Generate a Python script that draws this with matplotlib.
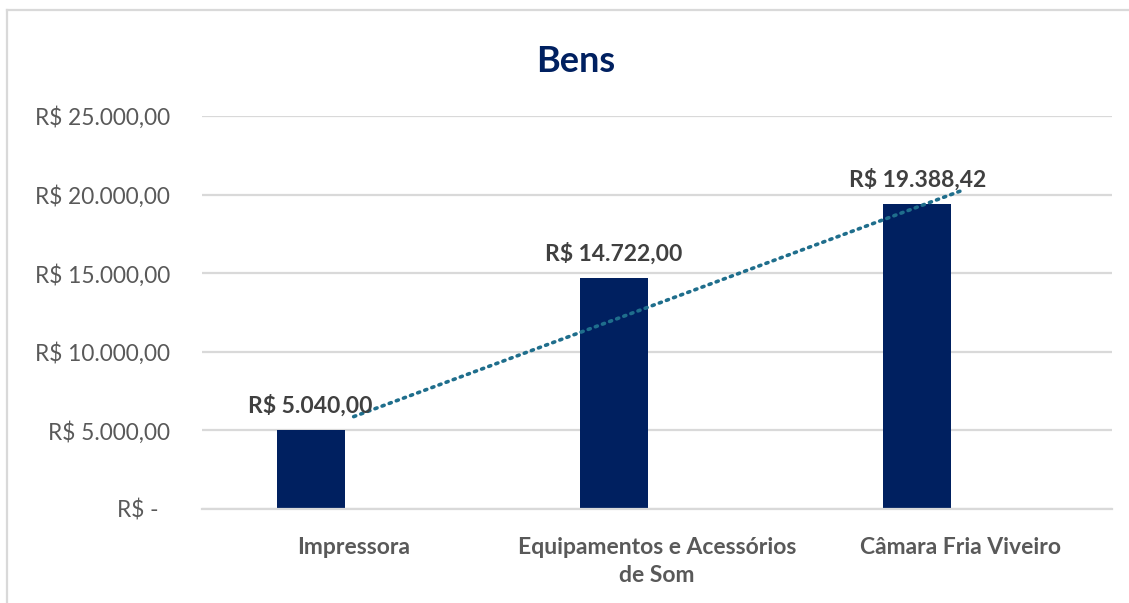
import matplotlib
matplotlib.use("Agg")
import matplotlib.pyplot as plt
import numpy as np
from matplotlib.ticker import FixedLocator

categories = ["Impressora", "Equipamentos e Acessórios\nde Som", "Câmara Fria Viveiro"]
values = [5040.00, 14722.00, 19388.42]
value_labels = ["R$ 5.040,00", "R$ 14.722,00", "R$ 19.388,42"]
yticks = [0, 5000, 10000, 15000, 20000, 25000]
ytick_labels = ["R$ -  ", "R$ 5.000,00", "R$ 10.000,00", "R$ 15.000,00", "R$ 20.000,00", "R$ 25.000,00"]
title = "Bens"

plt.rcParams['font.family'] = ['Lato', 'DejaVu Sans']

W, H = 1129, 603
fig = plt.figure(figsize=(W / 100, H / 100), dpi=100)

# chart border (top and left visible)
fig.add_artist(plt.Line2D([7 / W, 7 / W], [0, 1 - 10 / H], transform=fig.transFigure,
                          color="#D9D9D9", lw=1.6))
fig.add_artist(plt.Line2D([7 / W, 1], [1 - 10 / H, 1 - 10 / H], transform=fig.transFigure,
                          color="#D9D9D9", lw=1.6))

left, right = 202, 1112
top, bottom = 116, 509
ax = fig.add_axes([left / W, 1 - bottom / H, (right - left) / W, (bottom - top) / H])

x = np.arange(len(categories))
cat_w = (right - left) / 3.0
offset = -43 / cat_w
bar_w = 68 / cat_w

ax.bar(x + offset, values, width=bar_w, color="#002060", zorder=3)

for xi, v, lab in zip(x, values, value_labels):
    ax.annotate(lab, (xi + offset, v), xytext=(0, 9.5), textcoords="offset points",
                ha="center", va="bottom", fontsize=16.5, fontweight="bold",
                color="#404040", zorder=5)

# linear trendline
coef = np.polyfit(x, values, 1)
xt = np.array([x[0], x[-1]])
ax.plot(xt, np.polyval(coef, xt), linestyle=(0, (0.6, 1.5)), color="#1F6E8C",
        lw=2.6, dash_capstyle="round", zorder=4)

ax.set_xlim(-0.5, 2.5)
ax.set_ylim(0, 25000)
ax.yaxis.set_major_locator(FixedLocator(yticks))
ax.set_yticklabels(ytick_labels, fontsize=16.3, color="#595959")
ax.set_xticks(x)
ax.set_xticklabels(categories, fontsize=16.5, fontweight="bold", color="#595959",
                   linespacing=1.45)
ax.tick_params(axis="y", length=0, pad=23)
ax.tick_params(axis="x", length=0, pad=20)
for lab in ax.get_xticklabels():
    lab.set_verticalalignment("top")

ax.grid(axis="y", color="#D9D9D9", lw=1.6, zorder=0)
for s in ["top", "right", "left"]:
    ax.spines[s].set_visible(False)
ax.spines["bottom"].set_color("#D9D9D9")
ax.spines["bottom"].set_linewidth(1.6)
ax.spines["bottom"].set_zorder(3)

fig.text(576 / W, 1 - 62 / H, title, ha="center", va="center", fontsize=26,
         fontweight="bold", color="#002060")

fig.savefig("out.png", dpi=100, facecolor="white")
